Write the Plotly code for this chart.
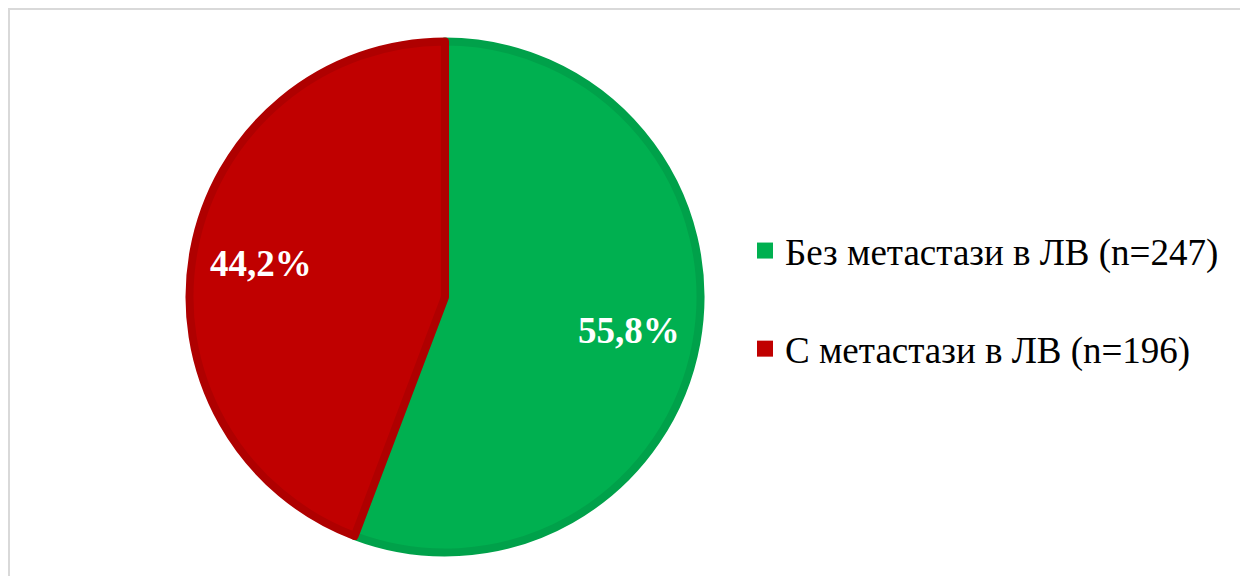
import math
import plotly.graph_objects as go

labels = ["Без метастази в ЛВ (n=247)", "С метастази в ЛВ (n=196)"]
values = [247, 196]
fill_colors = ["#00B050", "#C00000"]
line_colors = ["#00A14A", "#AF0000"]

W, H = 1240, 568
OFF = 8  # page body margin in the browser
total = sum(values)
pct_text = [f"{v / total * 100:.1f}".replace(".", ",") + "%" for v in values]


def px_x(sx):
    return (sx - OFF) / W


def px_y(sy):
    return 1 - (sy - OFF) / H


# pie geometry (screen pixels)
cx, cy, r = 445, 297, 255.5
dom_x = [px_x(cx - r), px_x(cx + r)]
dom_y = [px_y(cy + r), px_y(cy - r)]

fig = go.Figure()
fig.add_trace(go.Pie(
    labels=labels, values=values, sort=False, direction="clockwise", rotation=0,
    marker=dict(colors=fill_colors, line=dict(color=line_colors, width=8)),
    textinfo="none", showlegend=False, domain=dict(x=dom_x, y=dom_y),
    hoverinfo="label+percent",
))

# percentage labels placed along each slice's bisector
cum = 0
for v, t in zip(values, pct_text):
    mid = (cum + v / 2) / total * 2 * math.pi
    cum += v
    rr = 0.72 * (r + 4)
    sx = cx + rr * math.sin(mid)
    sy = cy - rr * math.cos(mid)
    fig.add_annotation(x=px_x(sx), y=px_y(sy), xref="paper", yref="paper",
                       xanchor="center", yanchor="middle",
                       text=f"<b>{t}</b>", showarrow=False,
                       font=dict(family="Liberation Serif", size=37, color="white"))

# legend entries
for i, (lab, col) in enumerate(zip(labels, fill_colors)):
    fig.add_trace(go.Scatter(x=[None], y=[None], mode="markers", name=lab,
                             legendgroup=f"g{i}",
                             marker=dict(symbol="square", size=20, color=col)))

fig.add_shape(type="rect", xref="paper", yref="paper",
              x0=1 / W, y0=-0.1, x1=1.1, y1=1 - 1 / H,
              line=dict(color="#D9D9D9", width=2), fillcolor="rgba(0,0,0,0)")

fig.update_layout(
    width=W, height=H, margin=dict(l=0, r=0, t=0, b=0),
    paper_bgcolor="white", plot_bgcolor="white",
    xaxis=dict(visible=False), yaxis=dict(visible=False),
    legend=dict(x=px_x(745), y=px_y(300), xanchor="left", yanchor="middle",
                font=dict(family="Liberation Serif", size=37, color="black"),
                tracegroupgap=47, itemclick=False, itemdoubleclick=False),
    font=dict(family="Liberation Serif"),
)

fig.write_html("out.html")
